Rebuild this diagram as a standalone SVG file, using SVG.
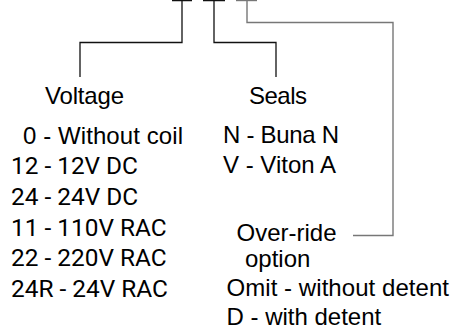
<svg xmlns="http://www.w3.org/2000/svg" width="454" height="334" viewBox="0 0 454 334">
<style>
.t{font-family:"Liberation Sans",Arial,sans-serif;font-size:24px;fill:#000}
.r{font-family:Roboto,"Liberation Sans",sans-serif;font-size:24.4px;fill:#000}
.c{fill:none;stroke:#111;stroke-width:1.3}
.g{fill:none;stroke:#777;stroke-width:1.4}
</style>
<rect width="454" height="334" fill="#fff"/>
<g id="connectors">
<path class="c" d="M172 0.5H192M203 0.5H225"/>
<path class="g" d="M236 0.5H257"/>
<path class="c" d="M182 0V42.5H80V77"/>
<path class="c" d="M214 0V42.5H276V77"/>
<path class="g" d="M247 0V22.5H393V235.5H353"/>
</g>
<g id="voltage">
<text class="t" x="45" y="104" textLength="79">Voltage</text>
<text class="t" x="23" y="144" textLength="160">0 - Without coil</text>
<text class="r" x="11" y="174" textLength="127">12 - 12V DC</text>
<text class="r" x="11" y="204.5">24 - 24V DC</text>
<text class="r" x="11" y="235.5">11 - 110V RAC</text>
<text class="r" x="11" y="266">22 - 220V RAC</text>
<text class="r" x="11" y="296.5">24R - 24V RAC</text>
</g>
<g id="seals">
<text class="t" x="249" y="104" textLength="58">Seals</text>
<text class="t" x="223" y="143" textLength="116">N - Buna N</text>
<text class="t" x="223" y="173">V - Viton A</text>
</g>
<g id="override">
<text class="t" x="236.5" y="240.5">Over-ride</text>
<text class="t" x="245" y="266.5">option</text>
<text class="t" x="226.5" y="295.5" textLength="222.5">Omit - without detent</text>
<text class="t" x="226.5" y="325">D - with detent</text>
</g>
</svg>
